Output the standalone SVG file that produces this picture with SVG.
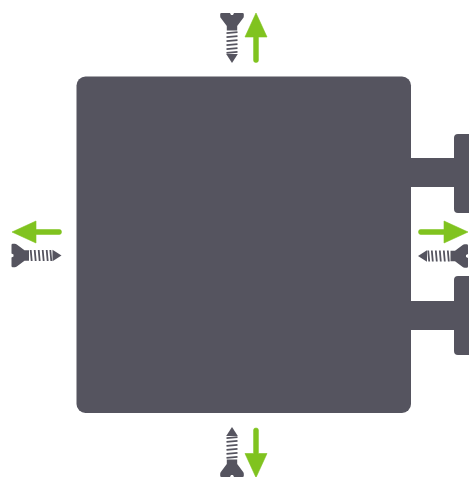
<svg xmlns="http://www.w3.org/2000/svg" width="469" height="477" viewBox="0 0 469 477">
<style>
.d{fill:#55545f}
.g{fill:#80c31f}
.t{stroke:#55545f;stroke-width:1.8;fill:none}
</style>
<defs>
<g id="screw">
<path class="d" d="M-10.500 0H-2L-1 2H1L2 0H10.500Q11.800 0 11.800 1.300V3.200Q11.800 4.500 11 5.300L5.200 13V17.500H-5.200V13L-11 5.300Q-11.800 4.500 -11.800 3.200V1.300Q-11.800 0 -10.500 0Z"/>
<path class="d" d="M-5.800 41H5.800L0 50Z"/>
<path class="t" d="M-5.500 20.200L5.500 19.200M-5.500 24.200L5.500 23.200M-5.500 28.200L5.500 27.200M-5.500 32.200L5.500 31.200M-5.500 36.200L5.500 35.200M-5.500 39.800L5.500 38.800"/>
</g>
<g id="arrow">
<path class="g" d="M0 0L11 24H2.400V47.500Q2.400 49.500 0 49.500Q-2.400 49.500 -2.400 47.500V24H-11Z" stroke="#80c31f" stroke-width="0.6" stroke-linejoin="round"/>
</g>
</defs>
<g id="body"><rect class="d" x="76.500" y="76.500" width="334.500" height="336.500" rx="9"/></g>
<g id="tee-upper"><path class="d" d="M410 158H454V138Q454 134 458 134H469V213H458Q454 213 454 209V187H410Z"/></g>
<g id="tee-lower"><path class="d" d="M410 301H454V280Q454 276 458 276H469V355H458Q454 355 454 351V330H410Z"/></g>
<g id="top-screw"><use href="#screw" transform="translate(232 13)"/></g>
<g id="left-screw"><use href="#screw" transform="translate(11.500 255.500) rotate(-90)"/></g>
<g id="right-screw"><use href="#screw" transform="translate(468 256) rotate(90)"/></g>
<g id="bottom-screw"><use href="#screw" transform="translate(232 477) rotate(180)"/></g>
<g id="connectors">
<use href="#arrow" transform="translate(256 13)"/>
<use href="#arrow" transform="translate(12 232) rotate(-90)"/>
<use href="#arrow" transform="translate(468 232) rotate(90)"/>
<use href="#arrow" transform="translate(256 477.500) rotate(180)"/>
</g>
</svg>
